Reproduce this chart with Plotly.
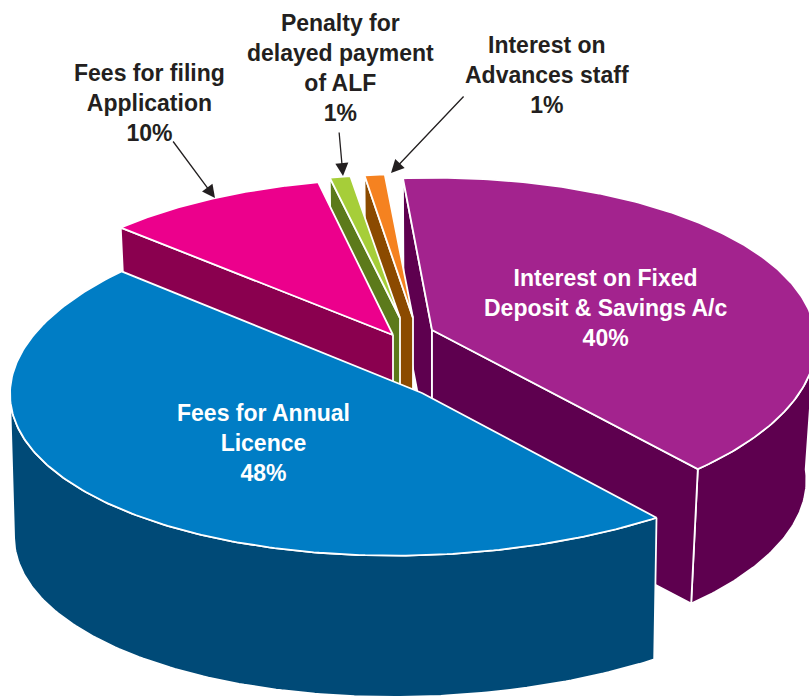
import numpy as np
import plotly.graph_objects as go

categories = ["Interest on Fixed<br>Deposit & Savings A/c", "Fees for Annual<br>Licence",
              "Fees for filing<br>Application", "Penalty for<br>delayed payment<br>of ALF",
              "Interest on<br>Advances staff"]
values = [40, 48, 10, 1, 1]
top_colors = ["#A3238E", "#007DC5", "#EC008C", "#A6CE39", "#F58220"]
wall_colors = ["#5E004F", "#004A77", "#8A004F", "#5C7A1B", "#8B4A00"]
# projection settings per slice:
# apex x, apex y, rx, ry, perspective y, perspective x, skew, depth, bottom scale
views = [(432, 330, 383, 169, 0.11, 0.08, 2, 138, 0.975),
         (422, 393, 412, 174, -0.07, -0.07, 31, 143, 0.99),
         (393, 335, 392, 173, 0.11, 0.11, 0, 142, 0.975),
         (400, 318, 368, 159, 0.11, 0.11, 0, 142, 0.975),
         (413, 318, 360, 160, 0.11, 0.11, 0, 142, 0.975)]
START_ANGLE = -5.0
FONT = "Liberation Sans"
draw_order = [0, 4, 3, 2, 1]


def project(view, theta, down=0.0):
    ax, ay, rx, ry, ky, kx, skew, depth, bottom = view
    u, v = np.sin(np.radians(theta)), np.cos(np.radians(theta))
    s = 1 - (1 - bottom) * down
    return ax + s * (rx * u + skew * v) / (1 + kx * v), ay + depth * down - s * ry * v / (1 + ky * v)


pct = np.array(values) / sum(values) * 360
starts = START_ANGLE + np.concatenate([[0], np.cumsum(pct)[:-1]])
fig = go.Figure()


def poly(xs, ys, color):
    fig.add_trace(go.Scatter(x=np.append(xs, xs[0]), y=np.append(ys, ys[0]), mode="lines", fill="toself",
                             fillcolor=color, line=dict(color="white", width=1.8), hoverinfo="skip",
                             showlegend=False))


for i in draw_order:
    t0, t1 = starts[i], starts[i] + pct[i]
    view = views[i]
    ax, ay, depth = view[0], view[1], view[7]
    wall = wall_colors[i]
    arc = np.linspace(t0, t1, 200)
    front = arc[np.cos(np.radians(arc)) < 0]
    if len(front) > 1:
        x1, y1 = project(view, front)
        x2, y2 = project(view, front[::-1], 1)
        poly(np.r_[x1, x2], np.r_[y1, y2], wall)
    for t, visible in ((t0, np.sin(np.radians(t0)) < 0), (t1, np.sin(np.radians(t1)) > 0)):
        if visible:
            xe, ye = project(view, t)
            xb, yb = project(view, t, 1)
            poly(np.array([ax, xe, xb, ax]), np.array([ay, ye, yb, ay + depth]), wall)
    x, y = project(view, arc)
    poly(np.r_[ax, x], np.r_[ay, y], top_colors[i])

label_pos = [(605, 308, "white"), (263, 443, "white"), (149, 103, "#231F20"), (340, 68, "#231F20"), (547, 75, "#231F20")]
annotations = []
for (lx, ly, c), name, val in zip(label_pos, categories, values):
    annotations.append(dict(x=lx, y=ly, xref="x", yref="y", text=f"<b>{name}<br>{val}%</b>", showarrow=False,
                            font=dict(family=FONT, size=23, color=c), align="center",
                            xanchor="center", yanchor="middle"))
for (x0, y0, x1, y1) in [(172, 140, 215, 198), (339, 131, 343, 176), (465, 95, 391, 173)]:
    annotations.append(dict(x=x1, y=y1, ax=x0, ay=y0, xref="x", yref="y", axref="x", ayref="y", text="",
                            showarrow=True, arrowhead=2, arrowsize=2, arrowwidth=1.3, arrowcolor="#231F20"))

fig.update_layout(width=809, height=698, margin=dict(l=0, r=0, t=0, b=0), paper_bgcolor="white",
                  plot_bgcolor="white", showlegend=False, annotations=annotations,
                  xaxis=dict(range=[0, 809], visible=False, fixedrange=True),
                  yaxis=dict(range=[698, 0], visible=False, fixedrange=True))
fig.write_html("out.html", config={"displayModeBar": False},
               post_script="document.body.style.margin='0';document.documentElement.style.overflow='hidden';")
